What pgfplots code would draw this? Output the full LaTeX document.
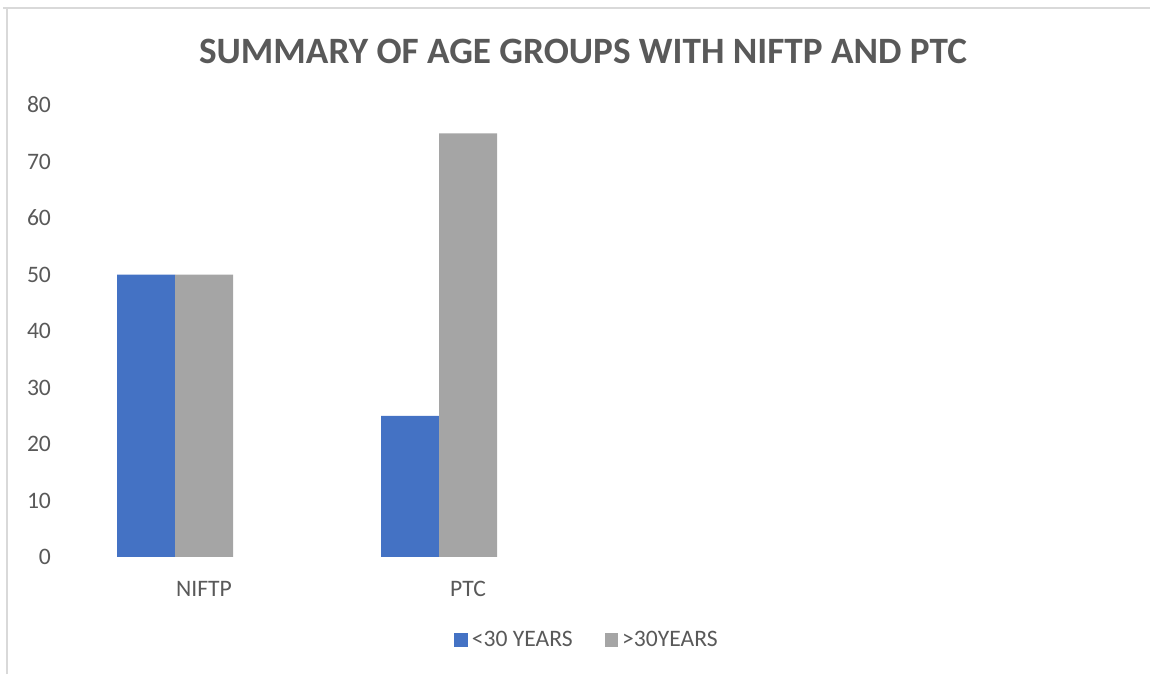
\documentclass[border=0pt]{standalone}
\usepackage{pgfplots}
\pgfplotsset{compat=1.18}
\usepackage{fontspec}
\setmainfont{Carlito}
\definecolor{barblue}{HTML}{4472C4}
\definecolor{bargray}{HTML}{A5A5A5}
\definecolor{txtgray}{HTML}{595959}
\definecolor{framegray}{HTML}{D9D9D9}
\begin{document}
\begin{tikzpicture}
  % page area and the chart frame (top and left edges)
  \path[use as bounding box] (0pt,0pt) rectangle (575pt,337pt);
  \draw[framegray, line width=1pt] (1.5pt,333pt) -- (575pt,333pt);
  \draw[framegray, line width=1pt] (3.5pt,0pt) -- (3.5pt,333pt);

  \begin{axis}[
    at={(36pt,58.5pt)}, anchor=south west,
    scale only axis,
    width=528pt, height=226pt,
    xmin=-0.5, xmax=3.5,
    ymin=0, ymax=80,
    ytick={0,10,...,80},
    xtick={0,1},
    xticklabels={NIFTP,PTC},
    axis line style={draw=none},
    major tick length=0pt,
    tick label style={font=\fontsize{11.8}{14}\selectfont, text=txtgray},
    yticklabel style={xshift=-7pt},
    xticklabel style={yshift=-8.5pt},
    /pgf/number format/assume math mode=true,
    ybar, bar width=29pt,
    legend columns=2,
    legend style={
      at={(0.4886,-0.1836)}, anchor=center,
      draw=none, fill=none,
      font=\fontsize{11.8}{14}\selectfont, text=txtgray,
      /tikz/every even column/.append style={column sep=14pt},
    },
    legend image code/.code={
      \fill[#1] (0pt,-3.4pt) rectangle (6.8pt,3.4pt);
    },
  ]
    % groups hold three slots; the third slot is empty
    \addplot[fill=barblue, draw=none, bar shift=-29pt]
      coordinates {(0,50) (1,25)};
    \addlegendentry{<30 YEARS}
    \addplot[fill=bargray, draw=none, bar shift=0pt]
      coordinates {(0,50) (1,75)};
    \addlegendentry{>30YEARS}
  \end{axis}

  \node[text=txtgray, font=\fontsize{18.6}{22}\selectfont\bfseries]
    at (291.5pt,311.5pt) {SUMMARY OF AGE GROUPS WITH NIFTP AND PTC};
\end{tikzpicture}
\end{document}
